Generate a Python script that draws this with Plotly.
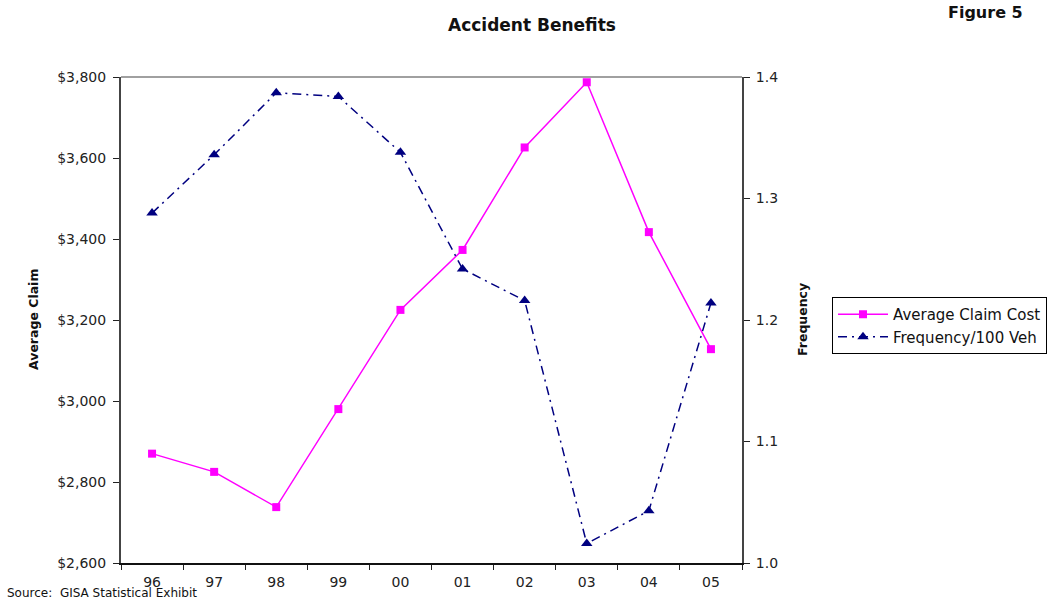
import plotly.graph_objects as go

years = ["96", "97", "98", "99", "00", "01", "02", "03", "04", "05"]
avg_claim_cost = [2870, 2825, 2738, 2980, 3225, 3373, 3626, 3787, 3417, 3128]
frequency = [1.288, 1.336, 1.387, 1.384, 1.338, 1.242, 1.216, 1.016, 1.043, 1.214]

FONT = "DejaVu Sans, Liberation Sans, Arial, sans-serif"

L, R, T, B = 121, 742, 77, 563
W, H = 1053, 601


def px(x):
    return (x - L) / (R - L)


def py(y):
    return (B - y) / (B - T)


fig = go.Figure()
fig.add_trace(go.Scatter(
    x=years, y=avg_claim_cost, name="Average Claim Cost", mode="lines+markers",
    line=dict(color="#FF00FF", width=1.5),
    marker=dict(symbol="square", size=8, color="#FF00FF"),
    yaxis="y",
))
fig.add_trace(go.Scatter(
    x=years, y=frequency, name="Frequency/100 Veh", mode="lines+markers",
    line=dict(color="#000080", width=1.5, dash="9px,5px,2px,5px"),
    marker=dict(symbol="triangle-up", size=10, color="#000080"),
    yaxis="y2",
))

fig.update_layout(
    width=W, height=H,
    margin=dict(l=L, r=W - R, t=T, b=H - B),
    paper_bgcolor="white", plot_bgcolor="white",
    font=dict(family=FONT, size=14, color="#222"),
    showlegend=True,
    legend=dict(
        xref="container", yref="container", x=832 / W, y=1 - 297 / H,
        xanchor="left", yanchor="top",
        bordercolor="black", borderwidth=1, bgcolor="white",
        font=dict(family=FONT, size=15, color="#111"),
        tracegroupgap=0, itemwidth=50,
    ),
    xaxis=dict(
        type="category", categoryorder="array", categoryarray=years,
        tickson="boundaries", ticks="outside", ticklen=5, tickcolor="#222",
        showline=True, linecolor="#111", linewidth=1.5,
        showgrid=False, zeroline=False,
        tickfont=dict(size=14, color="#222"),
        ticklabelstandoff=5,
        range=[-0.5, 9.5],
    ),
    yaxis=dict(
        range=[2600, 3800], dtick=200, tickprefix="$", tickformat=",",
        ticks="outside", ticklen=6, tickcolor="#222",
        showline=True, linecolor="#444", linewidth=2,
        showgrid=False, zeroline=False,
        tickfont=dict(size=14, color="#222"),
        ticklabelstandoff=4,
    ),
    yaxis2=dict(
        range=[1.0, 1.4], dtick=0.1, tickformat=".1f",
        overlaying="y", side="right",
        ticks="outside", ticklen=6, tickcolor="#222",
        showline=True, linecolor="#444", linewidth=2,
        showgrid=False, zeroline=False,
        tickfont=dict(size=14, color="#222"),
        ticklabelstandoff=3,
    ),
    shapes=[dict(type="line", xref="paper", yref="paper", x0=0, x1=1, y0=1, y1=1,
                 line=dict(color="#A0A0A0", width=2))],
    annotations=[
        dict(text="<b>Accident Benefits</b>", xref="paper", yref="paper",
             x=px(532), y=py(25), xanchor="center", yanchor="middle",
             showarrow=False, font=dict(size=17, color="#111")),
        dict(text="<b>Figure 5</b>", xref="paper", yref="paper",
             x=px(1025), y=py(12), xanchor="right", yanchor="middle",
             showarrow=False, font=dict(size=16, color="#111")),
        dict(text="<b>Average Claim</b>", xref="paper", yref="paper",
             x=px(33), y=py(320), xanchor="center", yanchor="middle",
             textangle=-90, showarrow=False, font=dict(size=12.5, color="#111")),
        dict(text="<b>Frequency</b>", xref="paper", yref="paper",
             x=px(802), y=py(320), xanchor="center", yanchor="middle",
             textangle=-90, showarrow=False, font=dict(size=12.5, color="#111")),
        dict(text="Source:\u00a0 GISA Statistical Exhibit", xref="paper", yref="paper",
             x=px(5), y=py(593), xanchor="left", yanchor="middle",
             showarrow=False, font=dict(size=12, color="#111")),
    ],
)

fig.write_html("out.html")
